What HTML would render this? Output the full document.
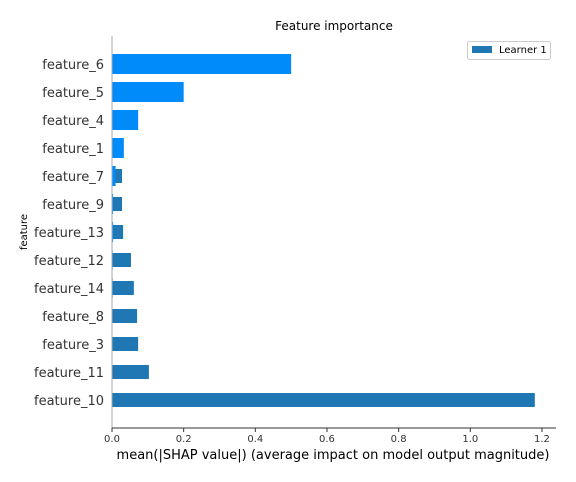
<!DOCTYPE html>
<html><head><meta charset="utf-8"><style>
body{margin:0;background:#fff;}
svg{display:block;font-family:"DejaVu Sans","Liberation Sans",sans-serif;}
</style></head><body>
<svg id="chart" width="576" height="482" viewBox="0 0 576 482">
<text x="334" y="30" font-size="12" text-anchor="middle" fill="#000">Feature importance</text>
<g id="bars"></g>
<g id="yticks"></g>
<g id="xticks"></g>
<line x1="112" y1="36" x2="112" y2="428" stroke="#aaa" stroke-width="1"/>
<line x1="112" y1="428" x2="556" y2="428" stroke="#333" stroke-width="1"/>
<text transform="translate(27,232) rotate(-90)" font-size="10" text-anchor="middle" fill="#000">feature</text>
<text x="333" y="459" font-size="13" text-anchor="middle" fill="#000">mean(|SHAP value|) (average impact on model output magnitude)</text>
<g>
<rect x="467.5" y="41.5" width="83" height="18" fill="#fff" stroke="#ccc" rx="2"/>
<rect x="472" y="46" width="20" height="7" fill="#1f77b4"/>
<text x="499" y="53" font-size="10" fill="#000">Learner 1</text>
</g>
</svg>
<script>
const features = ["feature_6","feature_5","feature_4","feature_1","feature_7","feature_9","feature_13","feature_12","feature_14","feature_8","feature_3","feature_11","feature_10"];
const learner1 = [0.02,0.02,0.02,0.02,0.028,0.028,0.031,0.053,0.061,0.07,0.073,0.103,1.18];
const overlay = [0.5,0.2,0.073,0.033,0.01,0.003,0.003,0.002,0.002,0.001,0.001,0.001,0.001];
const xTicks = [0,0.2,0.4,0.6,0.8,1.0,1.2];
const xTickLabels = ["0.0","0.2","0.4","0.6","0.8","1.0","1.2"];
const NS="http://www.w3.org/2000/svg";
const x = v => 112 + v*358.3;
const y = i => 64 + i*28;
const bars=document.getElementById('bars'), yt=document.getElementById('yticks'), xt=document.getElementById('xticks');
function mk(tag,attrs,parent){const e=document.createElementNS(NS,tag);for(const k in attrs)e.setAttribute(k,attrs[k]);parent.appendChild(e);return e;}
features.forEach((f,i)=>{
  const r=mk('rect',{x:x(0),y:y(i)-7,width:x(learner1[i])-x(0),height:14,fill:'#1f77b4'},bars);
  
  
});
features.forEach((f,i)=>{
  const r=mk('rect',{x:x(0),y:y(i)-10,width:x(overlay[i])-x(0),height:20,fill:'#008bfb'},bars);
  
  
  const t=mk('text',{x:104,y:y(i)+5,'font-size':13,'text-anchor':'end',fill:'#333'},yt);
  t.textContent=f;
  
  
});
xTicks.forEach((v,i)=>{
  mk('line',{x1:x(v),y1:428,x2:x(v),y2:432,stroke:'#333'},xt);
  const t=mk('text',{x:x(v),y:442,'font-size':10,'text-anchor':'middle',fill:'#333'},xt);
  t.textContent=xTickLabels[i];
  
  
});
</script>
</body></html>
